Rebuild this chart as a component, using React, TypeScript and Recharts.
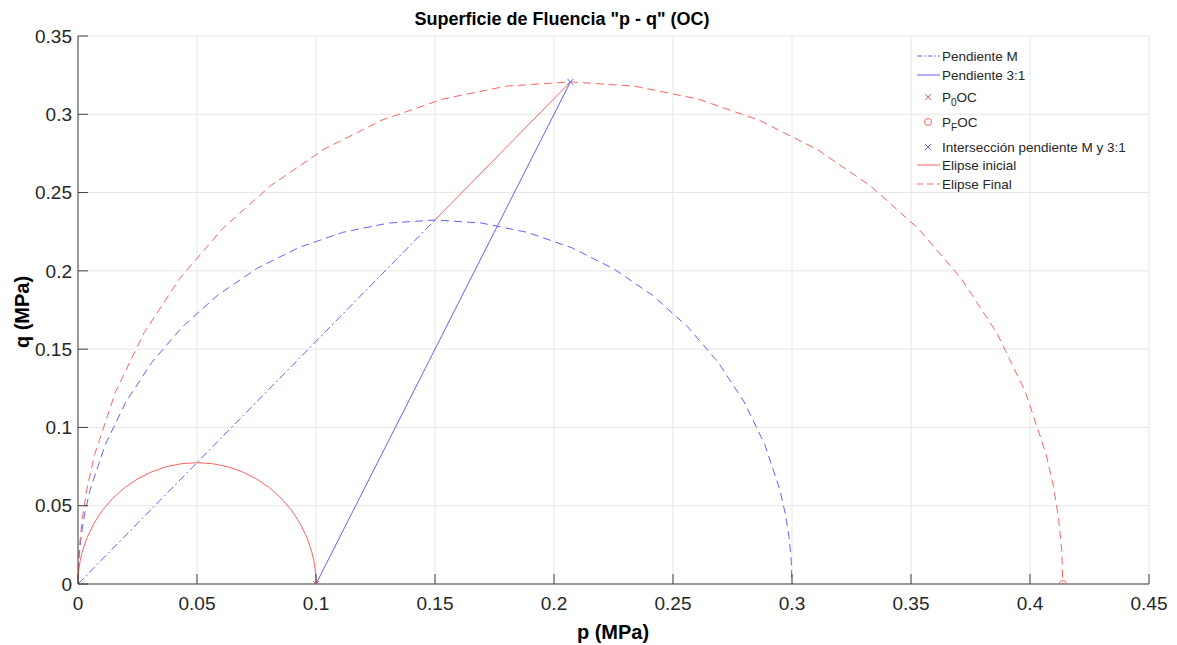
import React, { useEffect } from 'react';
import {
  ComposedChart,
  Line,
  Scatter,
  XAxis,
  YAxis,
  CartesianGrid
} from 'recharts';

// tick labels
const xTicks = [0, 0.05, 0.1, 0.15, 0.2, 0.25, 0.3, 0.35, 0.4, 0.45];
const yTicks = [0, 0.05, 0.1, 0.15, 0.2, 0.25, 0.3, 0.35];

// Elipse inicial (roja continua)
const iniP = [0, 0.00011, 0.00043, 0.00096, 0.0017, 0.00381, 0.0067, 0.01033, 0.01464, 0.01956, 0.025, 0.03087, 0.03706, 0.04347, 0.05,
  0.05653, 0.06294, 0.06913, 0.075, 0.08044, 0.08536, 0.08967, 0.0933, 0.09619, 0.0983, 0.09904, 0.09957, 0.09989, 0.1];
const iniQ = [0, 0.00507, 0.01012, 0.01512, 0.02006, 0.02966, 0.03875, 0.04718, 0.0548, 0.06148, 0.06712, 0.0716, 0.07486, 0.07684, 0.0775,
  0.07684, 0.07486, 0.0716, 0.06712, 0.06148, 0.0548, 0.04718, 0.03875, 0.02966, 0.02006, 0.01512, 0.01012, 0.00507, 0];

// Elipse intermedia (azul discontinua)
const midP = [0, 0.00032, 0.00129, 0.00288, 0.0051, 0.01143, 0.0201, 0.03099, 0.04392, 0.05868, 0.075, 0.09261, 0.11118, 0.13041, 0.15,
  0.16959, 0.18882, 0.20739, 0.225, 0.24132, 0.25608, 0.26901, 0.2799, 0.28857, 0.2949, 0.29712, 0.29871, 0.29968, 0.3];
const midQ = [0, 0.01521, 0.03036, 0.04536, 0.06018, 0.08898, 0.11625, 0.14154, 0.1644, 0.18444, 0.20136, 0.2148, 0.22458, 0.23052, 0.2325,
  0.23052, 0.22458, 0.2148, 0.20136, 0.18444, 0.1644, 0.14154, 0.11625, 0.08898, 0.06018, 0.04536, 0.03036, 0.01521, 0];

// Elipse final (roja discontinua)
const finP = [0, 0.00044, 0.00178, 0.00397, 0.00705, 0.01575, 0.02772, 0.04276, 0.0606, 0.08095, 0.10345, 0.12772, 0.15335, 0.17989, 0.2069,
  0.23391, 0.26045, 0.28608, 0.31035, 0.33285, 0.3532, 0.37104, 0.38608, 0.39805, 0.40675, 0.40983, 0.41202, 0.41336, 0.4138];
const finQ = [0, 0.02097, 0.04186, 0.06257, 0.083, 0.12273, 0.16035, 0.19523, 0.22677, 0.25443, 0.27774, 0.29629, 0.30977, 0.31795, 0.3207,
  0.31795, 0.30977, 0.29629, 0.27774, 0.25443, 0.22677, 0.19523, 0.16035, 0.12273, 0.083, 0.06257, 0.04186, 0.02097, 0];

// rectas
const lineaM = [{ p: 0, q: 0 }, { p: 0.15, q: 0.2325 }];
const linea31 = [{ p: 0.1, q: 0 }, { p: 0.2069, q: 0.3207 }];
const lineaMExt = [{ p: 0.15, q: 0.2325 }, { p: 0.2069, q: 0.3207 }];

// puntos
const p0OC = [{ p: 0.1, q: 0 }];
const pFOC = [{ p: 0.4138, q: 0 }];
const interseccion = [{ p: 0.2069, q: 0.3207 }];

const toPts = (ps: number[], qs: number[]) => ps.map((p, i) => ({ p, q: qs[i] }));

const RED = '#ff6262';
const BLUE = '#6262ff';
const AXIS = '#404040';
const TXT = '#262626';
const FONT = '"Liberation Sans", Arial, sans-serif';

const XTick = ({ x, y, payload }: any) => (
  <g>
    <line x1={x} x2={x} y1={y - 13} y2={y - 23} stroke={AXIS} />
    <text x={x} y={y} dy="0.71em" textAnchor="middle" fill={TXT} fontSize={19} fontFamily={FONT}>
      {payload.value}
    </text>
  </g>
);

const YTick = ({ x, y, payload }: any) => (
  <g>
    <line x1={x + 6} x2={x + 16} y1={y} y2={y} stroke={AXIS} />
    <text x={x} y={y} dy="0.35em" textAnchor="end" fill={TXT} fontSize={19} fontFamily={FONT}>
      {payload.value}
    </text>
  </g>
);

const Cross = ({ cx, cy, color }: any) => (
  <g stroke={color} strokeWidth={1}>
    <line x1={cx - 3} y1={cy - 3} x2={cx + 3} y2={cy + 3} />
    <line x1={cx - 3} y1={cy + 3} x2={cx + 3} y2={cy - 3} />
  </g>
);

const Ring = ({ cx, cy }: any) => <circle cx={cx} cy={cy} r={3.5} fill="none" stroke={RED} strokeWidth={1} />;

const legendItems = [
  { label: 'Pendiente M', kind: 'line', color: BLUE, dash: '5 2 1.5 2' },
  { label: 'Pendiente 3:1', kind: 'line', color: BLUE, dash: '' },
  { label: 'P', sub: '0', tail: 'OC', kind: 'x', color: RED },
  { label: 'P', sub: 'F', tail: 'OC', kind: 'o', color: RED },
  { label: 'Intersección pendiente M y 3:1', kind: 'x', color: BLUE },
  { label: 'Elipse inicial', kind: 'line', color: RED, dash: '' },
  { label: 'Elipse Final', kind: 'line', color: RED, dash: '6 4' }
];
const legendRowsY = [56, 75, 97, 122, 147, 165, 184];

const LegendBox = () => (
  <g>
    {legendItems.map((it, i) => {
      const y = legendRowsY[i];
      return (
        <g key={it.label + i}>
          {it.kind === 'line' && (
            <line x1={917} x2={940} y1={y} y2={y} stroke={it.color} strokeDasharray={it.dash || undefined} />
          )}
          {it.kind === 'x' && <Cross cx={928} cy={y} color={it.color} />}
          {it.kind === 'o' && <Ring cx={928} cy={y} />}
          <text x={942} y={y} dy="0.35em" fontSize={13.5} fill={TXT} fontFamily={FONT}>
            {it.label}
            {it.sub && (
              <tspan dy={4} fontSize={10}>{it.sub}</tspan>
            )}
            {it.tail && <tspan dy={-4}>{it.tail}</tspan>}
          </text>
        </g>
      );
    })}
  </g>
);

export default function App() {
  useEffect(() => {
    document.body.style.margin = '0';
  }, []);

  return (
    <div style={{ position: 'relative', width: 1177, height: 645, background: '#fff', fontFamily: FONT }}>
      <ComposedChart
        width={1177}
        height={645}
        margin={{ top: 36, right: 28, bottom: 31, left: 0 }}
      >
        <CartesianGrid stroke="#e6e6e6" horizontalValues={yTicks} verticalValues={xTicks} />
        <XAxis
          type="number"
          dataKey="p"
          domain={[0, 0.45]}
          ticks={xTicks}
          allowDataOverflow
          height={30}
          tickSize={0}
          tickMargin={13}
          tickLine={false}
          stroke={AXIS}
          tick={<XTick />}
          interval={0}
        />
        <YAxis
          type="number"
          dataKey="q"
          domain={[0, 0.35]}
          ticks={yTicks}
          allowDataOverflow
          width={78}
          tickSize={0}
          tickMargin={6}
          tickLine={false}
          stroke={AXIS}
          tick={<YTick />}
          interval={0}
        />
        <Line data={toPts(midP, midQ)} dataKey="q" type="linear" stroke={BLUE} strokeDasharray="8 5" dot={false} isAnimationActive={false} legendType="none" />
        <Line data={toPts(finP, finQ)} dataKey="q" type="linear" stroke={RED} strokeDasharray="8 5" dot={false} isAnimationActive={false} name="Elipse Final" />
        <Line data={toPts(iniP, iniQ)} dataKey="q" type="linear" stroke={RED} dot={false} isAnimationActive={false} name="Elipse inicial" />
        <Line data={lineaM} dataKey="q" type="linear" stroke={BLUE} strokeDasharray="8 3 2 3" dot={false} isAnimationActive={false} name="Pendiente M" />
        <Line data={linea31} dataKey="q" type="linear" stroke={BLUE} dot={false} isAnimationActive={false} name="Pendiente 3:1" />
        <Line data={lineaMExt} dataKey="q" type="linear" stroke={RED} dot={false} isAnimationActive={false} legendType="none" />
        <Scatter data={p0OC} dataKey="q" isAnimationActive={false} shape={(props: any) => <Cross {...props} color={RED} />} />
        <Scatter data={pFOC} dataKey="q" isAnimationActive={false} shape={(props: any) => <Ring {...props} />} />
        <Scatter data={interseccion} dataKey="q" isAnimationActive={false} shape={(props: any) => <Cross {...props} color={BLUE} />} />
        <LegendBox />
        <text x={562} y={19} dy="0.35em" textAnchor="middle" fontSize={18} fontWeight="bold" fill="#000" fontFamily={FONT}>
          Superficie de Fluencia "p - q" (OC)
        </text>
        <text x={613} y={632} dy="0.35em" textAnchor="middle" fontSize={20} fontWeight="bold" fill="#000" fontFamily={FONT}>
          p (MPa)
        </text>
        <text x={22} y={312} dy="0.35em" textAnchor="middle" fontSize={20} fontWeight="bold" fill="#000" fontFamily={FONT} transform="rotate(-90 22 312)">
          q (MPa)
        </text>
      </ComposedChart>
    </div>
  );
}
